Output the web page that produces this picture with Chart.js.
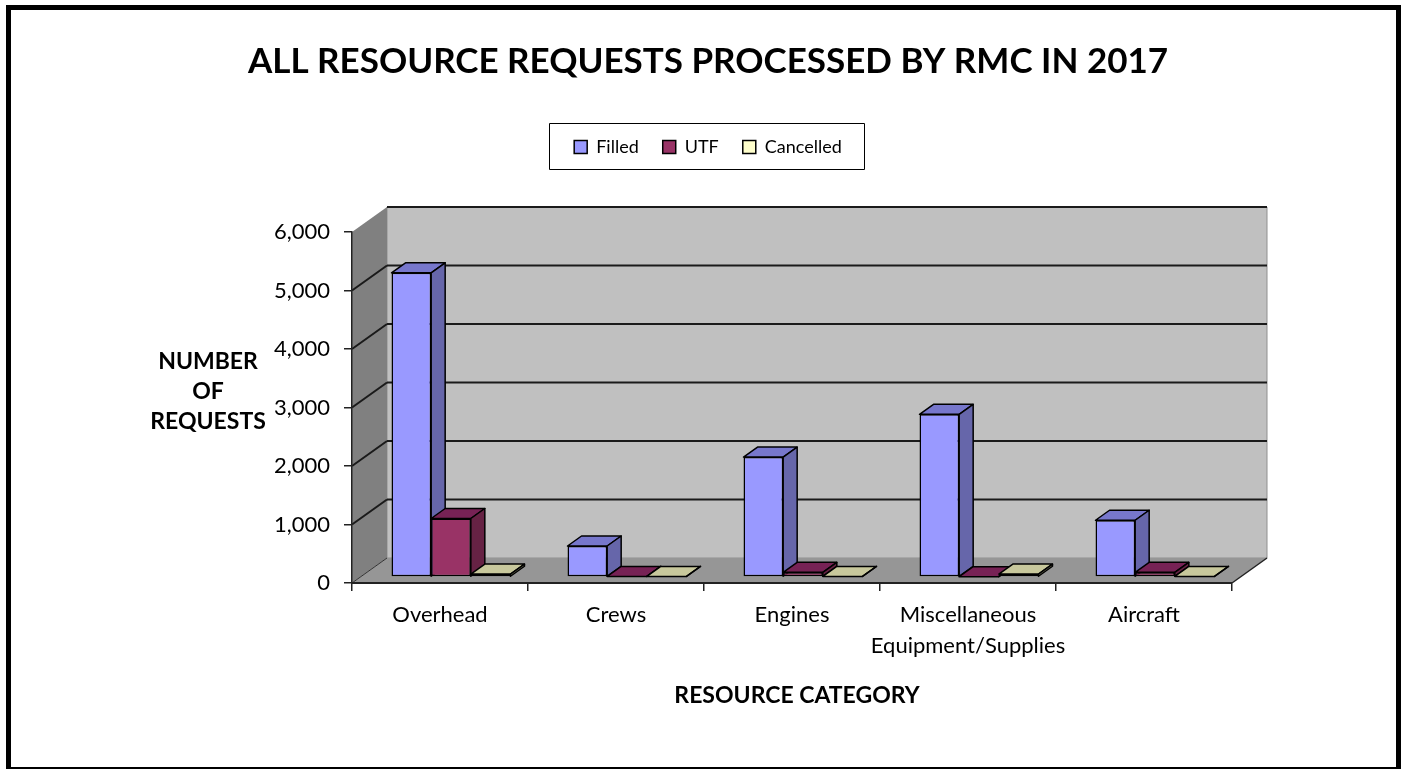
<!DOCTYPE html>
<html>
<head>
<meta charset="utf-8">
<title>All resource requests</title>
<script src="https://cdn.jsdelivr.net/npm/chart.js@4"></script>
<style>
    html, body { margin: 0; padding: 0; background: #fff; }
    canvas { display: block; }
</style>
</head>
<body>
<canvas id="myChart" width="1406" height="769"></canvas>
<script>
const categories = ['Overhead', 'Crews', 'Engines', ['Miscellaneous', 'Equipment/Supplies'], 'Aircraft'];
const filled = [5200, 530, 2050, 2780, 970];
const utf = [1000, 10, 80, 5, 80];
const cancelled = [50, 10, 10, 50, 10];
const yTicks = [0, 1000, 2000, 3000, 4000, 5000, 6000];
const yTitleLines = ['NUMBER', 'OF', 'REQUESTS'];
const xTitle = 'RESOURCE CATEGORY';

const FONT = '"Comic Sans MS", Lato, sans-serif';
const WALL_DX = 35, WALL_DY = 25;   // depth of the box
const BAR_DX = 11, BAR_DY = 6;      // bars stand a bit inside the floor
const DEPTH_X = 14, DEPTH_Y = 10;   // depth of one bar

const fronts = ['#9999FF', '#993366', '#FFFFCC'];
const tops = ['#7777CC', '#772255', '#C8C89C'];
const sides = ['#6666AA', '#662244', '#999977'];

function poly(ctx, pts, fill, stroke, lw) {
    ctx.beginPath();
    pts.forEach((p, i) => i ? ctx.lineTo(p[0], p[1]) : ctx.moveTo(p[0], p[1]));
    ctx.closePath();
    if (fill) { ctx.fillStyle = fill; ctx.fill(); }
    if (stroke) { ctx.strokeStyle = stroke; ctx.lineWidth = lw; ctx.lineJoin = 'round'; ctx.stroke(); }
}

function line(ctx, x1, y1, x2, y2, color, lw) {
    ctx.beginPath();
    ctx.moveTo(x1, y1);
    ctx.lineTo(x2, y2);
    ctx.strokeStyle = color;
    ctx.lineWidth = lw;
    ctx.stroke();
}

const box3d = {
    id: 'box3d',
    afterLayout(chart) {
        // title and legend are centred over the whole frame, not over the plot
        chart.titleBlock.left = 10;
        chart.titleBlock.right = 1406;
        chart.legend.left = 10;
        chart.legend.right = 1406;
        chart.legend.top -= 66;
        chart.legend.bottom -= 66;
    },
    beforeDraw(chart) {
        const ctx = chart.ctx;
        const { left, right } = chart.chartArea;
        const y = chart.scales.y;
        const y0 = y.getPixelForValue(0), yMax = y.getPixelForValue(6000);

        ctx.save();
        ctx.fillStyle = '#fff';
        ctx.fillRect(0, 0, chart.width, chart.height);
        ctx.strokeStyle = '#000';
        ctx.lineWidth = 5;
        ctx.strokeRect(8.5, 7.5, 1390, 762);

        // back wall, left wall, floor
        poly(ctx, [[left + WALL_DX, yMax - WALL_DY], [right + WALL_DX, yMax - WALL_DY], [right + WALL_DX, y0 - WALL_DY], [left + WALL_DX, y0 - WALL_DY]], '#C0C0C0', '#909090', 1);
        poly(ctx, [[left, yMax], [left + WALL_DX, yMax - WALL_DY], [left + WALL_DX, y0 - WALL_DY], [left, y0]], '#808080');
        poly(ctx, [[left, y0], [right, y0], [right + WALL_DX, y0 - WALL_DY], [left + WALL_DX, y0 - WALL_DY]], '#969696');
        line(ctx, left, y0, left + WALL_DX, y0 - WALL_DY, '#333', 1);
        line(ctx, right, y0, right + WALL_DX, y0 - WALL_DY, '#222', 1.5);

        yTicks.forEach(v => {
            if (v === 0) return;
            const py = y.getPixelForValue(v);
            line(ctx, left + WALL_DX, py - WALL_DY, right + WALL_DX, py - WALL_DY, '#1a1a1a', 2);
            if (v < 6000) line(ctx, left, py, left + WALL_DX, py - WALL_DY, '#1a1a1a', 2);
        });

        // legend frame
        ctx.fillStyle = '#fff';
        ctx.fillRect(549.5, 123.5, 315, 46);
        ctx.strokeStyle = '#000';
        ctx.lineWidth = 1;
        ctx.strokeRect(549.5, 123.5, 315, 46);
        ctx.restore();
    },
    beforeDatasetsDraw(chart) {
        const ctx = chart.ctx;
        ctx.save();
        ctx.translate(BAR_DX, -BAR_DY);
        // series left to right so the next front hides the previous side
        chart.data.datasets.forEach((ds, i) => {
            chart.getDatasetMeta(i).data.forEach(bar => {
                const l = bar.x - bar.width / 2, r = bar.x + bar.width / 2;
                const t = bar.y, b = bar.base;
                poly(ctx, [[l, t], [r, t], [r + DEPTH_X, t - DEPTH_Y], [l + DEPTH_X, t - DEPTH_Y]], tops[i], '#000', 1.5);
                poly(ctx, [[r, t], [r + DEPTH_X, t - DEPTH_Y], [r + DEPTH_X, b - DEPTH_Y], [r, b]], sides[i], '#000', 1.5);
                bar.draw(ctx);
            });
        });
        ctx.restore();
        return false;
    },
    afterDraw(chart) {
        const ctx = chart.ctx;
        ctx.save();
        ctx.fillStyle = '#000';
        ctx.textAlign = 'center';
        ctx.textBaseline = 'middle';
        ctx.font = 'bold 23px ' + FONT;
        yTitleLines.forEach((s, i) => ctx.fillText(s, 208, 362 + i * 30));
        ctx.fillText(xTitle, 797, 696);
        ctx.restore();
    }
};

new Chart(document.getElementById('myChart'), {
    type: 'bar',
    data: {
        labels: categories,
        datasets: [
            { label: 'Filled', data: filled, backgroundColor: fronts[0] },
            { label: 'UTF', data: utf, backgroundColor: fronts[1] },
            { label: 'Cancelled', data: cancelled, backgroundColor: fronts[2] }
        ].map(ds => Object.assign(ds, { borderColor: '#000', borderWidth: 1.5, borderSkipped: false, categoryPercentage: 0.676, barPercentage: 1 }))
    },
    options: {
        responsive: false,
        animation: false,
        layout: { padding: { left: 10, right: 174, top: 0, bottom: 0 } },
        plugins: {
            tooltip: { enabled: false },
            title: {
                display: true,
                text: 'ALL RESOURCE REQUESTS PROCESSED BY RMC IN 2017',
                color: '#000',
                font: { family: FONT, size: 35, weight: 'bold' },
                padding: { top: 41, bottom: 97 }
            },
            legend: {
                display: true,
                labels: {
                    color: '#000',
                    font: { family: FONT, size: 18 },
                    boxWidth: 13,
                    boxHeight: 13,
                    padding: 24
                }
            }
        },
        scales: {
            x: {
                afterFit(scale) { scale.height = 186; },
                grid: { drawOnChartArea: false, color: '#222', lineWidth: 1.5, tickLength: 8 },
                border: { display: true, color: '#222', width: 2 },
                ticks: {
                    color: '#000',
                    maxRotation: 0,
                    autoSkip: false,
                    padding: 8,
                    font: { family: FONT, size: 22, lineHeight: '31px' }
                }
            },
            y: {
                min: 0,
                max: 6000,
                afterFit(scale) { scale.width = 342; },
                afterBuildTicks(scale) { scale.ticks = yTicks.map(v => ({ value: v })); },
                grid: { drawOnChartArea: false, color: '#222', lineWidth: 1.5, tickLength: 8 },
                border: { display: true, color: '#222', width: 1.5 },
                ticks: {
                    color: '#000',
                    padding: 14,
                    font: { family: FONT, size: 22 },
                    callback: v => v.toLocaleString('en-US')
                }
            }
        }
    },
    plugins: [box3d]
});
</script>
</body>
</html>
